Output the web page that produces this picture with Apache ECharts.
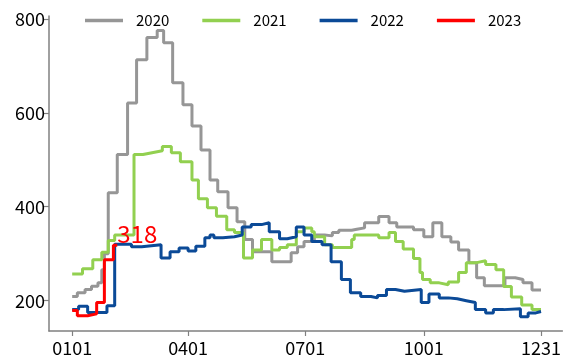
<!DOCTYPE html>
<html>
<head>
<meta charset="utf-8">
<script src="https://cdn.jsdelivr.net/npm/echarts@6/dist/echarts.min.js"></script>
<style>
html,body{margin:0;padding:0;background:#fff;}
#chart{width:564px;height:361px;}
</style>
</head>
<body>
<div id="chart"></div>
<script>
// x positions are day-of-year offsets (0 = 0101)
const seriesNames = ['2020', '2021', '2022', '2023'];
const tickDays = [0, 90, 181, 273, 364];
const tickLabels = ['0101', '0401', '0701', '1001', '1231'];
const yTicks = [200, 400, 600, 800];

const days2020 = [0,4,10,15,20,23,25,28,35,43,50,58,66,71,78,86,93,100,107,113,121,128,134,140,155,170,175,180,188,196,202,207,217,221,227,238,246,252,265,273,280,287,294,300,308,314,320,336,344,350,357,364];
const vals2020 = [209,217,224,231,238,266,300,430,511,621,713,760,775,749,664,617,572,521,457,432,398,368,330,304,283,302,315,326,340,338,345,350,352,355,366,379,366,357,351,336,366,336,325,308,281,249,232,249,245,238,223,223];

const days2021 = [0,8,16,23,28,33,48,55,62,70,77,84,93,98,105,112,120,126,133,140,147,155,161,167,174,180,186,188,196,202,217,219,238,246,251,257,265,270,272,278,285,292,300,306,314,321,329,335,341,349,357,364];
const vals2021 = [257,268,287,303,328,340,511,515,519,528,515,496,457,417,398,380,351,345,291,308,330,308,313,319,347,355,347,336,319,313,330,340,334,345,326,310,290,260,245,238,234,240,260,281,285,277,266,230,208,191,181,181];

const days2022 = [0,5,12,27,33,46,54,69,76,83,90,96,103,107,110,117,126,132,139,147,153,161,167,174,180,186,194,201,209,216,224,232,237,244,251,258,271,277,285,292,299,306,313,321,327,335,348,354,360,364];
const vals2022 = [181,188,175,189,320,315,319,291,304,312,306,316,334,340,334,336,340,357,362,366,347,332,336,357,340,326,319,283,245,217,209,206,211,224,220,224,196,214,206,204,200,196,181,174,181,183,166,174,177,177];

const days2023 = [0,4,12,19,25,32,35];
const vals2023 = [179,168,172,196,287,318,318];

const colors = ['#969696', '#92D050', '#0B4A97', '#FF0000'];

function zip(d, v) { return d.map((x, i) => [x, v[i]]); }
const dataSets = [zip(days2020, vals2020), zip(days2021, vals2021), zip(days2022, vals2022), zip(days2023, vals2023)];

const fontFam = '"Noto Sans CJK SC", "Noto Sans", sans-serif';
const chart = echarts.init(document.getElementById('chart'));

const series = seriesNames.map((name, i) => {
  const s = {
    name: name,
    type: 'line',
    step: 'end',
    showSymbol: false,
    symbol: 'none',
    data: dataSets[i],
    lineStyle: { width: 3, color: colors[i] },
    itemStyle: { color: colors[i] },
    z: 2 + i
  };
  if (i === 3) {
    s.endLabel = {
      show: true,
      formatter: p => String(p.value[1]),
      color: '#FF0000',
      fontSize: 24,
      fontFamily: fontFam,
      distance: 0,
      offset: [0, -11]
    };
  }
  return s;
});

chart.setOption({
  animation: false,
  backgroundColor: '#fff',
  color: colors,
  legend: {
    data: seriesNames,
    top: 8,
    left: 80,
    icon: 'rect',
    itemWidth: 38,
    itemHeight: 3.5,
    itemGap: 33,
    textStyle: { fontSize: 15, color: '#000', fontFamily: fontFam, padding: [0, 0, 0, 8] }
  },
  grid: { left: 49, right: 0, top: 16, bottom: 30, containLabel: false },
  xAxis: {
    type: 'value',
    min: -18,
    max: 380.6,
    splitLine: { show: false },
    axisLine: { show: true, lineStyle: { color: '#808080', width: 1.5 } },
    axisTick: { show: true, customValues: tickDays, length: 5, lineStyle: { color: '#808080', width: 1.2 } },
    axisLabel: {
      customValues: tickDays,
      formatter: v => tickLabels[tickDays.indexOf(v)],
      fontSize: 18, color: '#000', fontFamily: fontFam, margin: 8
    }
  },
  yAxis: {
    type: 'value',
    min: 135.5,
    max: 806,
    splitLine: { show: false },
    axisLine: { show: true, onZero: false, lineStyle: { color: '#808080', width: 1.5 } },
    axisTick: { show: true, customValues: yTicks, length: 6, lineStyle: { color: '#808080', width: 1.2 } },
    axisLabel: {
      customValues: yTicks,
      fontSize: 18, color: '#000', fontFamily: fontFam, margin: 4
    }
  },
  series: series
});
</script>
</body>
</html>
